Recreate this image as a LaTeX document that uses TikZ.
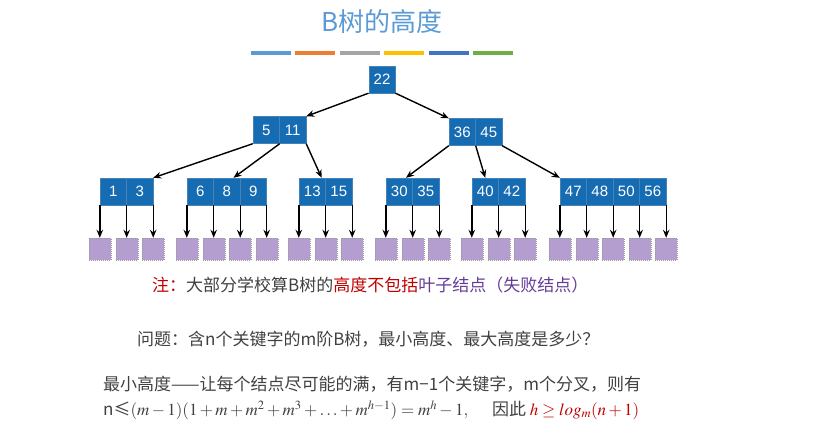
\documentclass[tikz,border=0pt]{standalone}
\usepackage{mathptmx}
\usepackage[no-math]{fontspec}
\setmainfont{Noto Sans CJK SC}
\newfontfamily\numfont{Liberation Sans}
\usetikzlibrary{arrows.meta,calc}

\definecolor{keyblue}{RGB}{22,108,178}
\definecolor{keyline}{RGB}{70,130,180}
\definecolor{leafpurple}{RGB}{180,158,208}
\definecolor{titleblue}{RGB}{91,155,213}
\definecolor{txtgray}{RGB}{64,64,64}
\definecolor{notered}{RGB}{192,0,0}
\definecolor{notepurple}{RGB}{100,60,150}
\definecolor{barblue}{RGB}{91,155,213}
\definecolor{barorange}{RGB}{237,125,49}
\definecolor{bargray}{RGB}{165,165,165}
\definecolor{baryellow}{RGB}{255,192,0}
\definecolor{bardark}{RGB}{68,114,196}
\definecolor{bargreen}{RGB}{112,173,71}

\begin{document}
\begin{tikzpicture}[x=1pt,y=-1pt,
keycell/.style={draw=keyline,fill=keyblue,text=white,minimum width=26.5pt,
  minimum height=27pt,inner sep=0pt,font=\numfont\fontsize{15}{15}\selectfont},
leafbox/.style={draw=gray!80,dash pattern=on 1pt off 1pt,fill=leafpurple,
  minimum size=22pt,inner sep=0pt},
ptr/.style={-{Stealth[length=8pt,width=6.5pt]},line width=1.4pt},
txt/.style={anchor=west,inner sep=0pt,text=txtgray,font=\fontsize{17}{20}\selectfont}]
\useasboundingbox (0,0) rectangle (833,441);

% title and colour bars
\node[font=\fontsize{26}{26}\selectfont,text=titleblue] (title) at (382,22) {B树的高度};
\foreach \c [count=\i] in {barblue,barorange,bargray,baryellow,bardark,bargreen}
  \fill[\c] ({251+44.4*(\i-1)},51) rectangle ++(40,4);

% root and second level
\node[keycell] (k22) at (382,79.5) {22};
\node[keycell] (k5) at (266.25,130) {5};
\node[keycell] (k11) at (292.75,130) {11};
\node[keycell] (k36) at (462.25,132) {36};
\node[keycell] (k45) at (488.75,132) {45};

% third level
\foreach \k/\x in {1/113.25,3/139.75,6/200.25,8/226.75,9/253.25,13/312.25,15/338.75,
  30/399.25,35/425.75,40/485.25,42/511.75,47/573.25,48/599.75,50/626.25,56/652.75}
  \node[keycell] (k\k) at (\x,191.5) {\k};

\draw[ptr] (k22.south west) -- (k11.north east);
\draw[ptr] (k22.south east) -- (k36.north west);
\draw[ptr] (k5.south west) -- (k3.north east);
\draw[ptr] (k5.south east) -- ($(k8.north)!.5!(k8.north east)$);
\draw[ptr] (k11.south east) -- ($(k13.north)!.7!(k13.north east)$);
\draw[ptr] (k36.south west) -- ($(k30.north)!.5!(k30.north east)$);
\draw[ptr] (k36.south east) -- (k40.north);
\draw[ptr] (k45.south east) -- (k47.north west);

% leaves (failure nodes)
\coordinate (leafrow) at (0,249);
\foreach \kc/\ks [count=\i] in {k1/south west,k1/south east,k3/south east,
  k6/south west,k6/south east,k8/south east,k9/south east,
  k13/south west,k13/south east,k15/south east,
  k30/south west,k30/south east,k35/south east,
  k40/south west,k40/south east,k42/south east,
  k47/south west,k47/south east,k48/south east,k50/south east,k56/south east}{
  \node[leafbox] (l\i) at (\kc.\ks |- leafrow) {};
  \draw[ptr] (\kc.\ks) -- (l\i);
}

% texts
\node[txt] (note) at (152,285) {\textcolor{notered}{注：}大部分学校算B树的\textcolor{notered}{高度不包括}\textcolor{notepurple}{叶子结点（失败结点）}};
\node[txt] (question) at (137,339) {问题：含n个关键字的m阶B树，最小高度、最大高度是多少？};
\node[txt] (minh) at (103,384) {最小高度——让每个结点尽可能的满，有m−1个关键字，m个分叉，则有};
\node[txt] (formula) at (103,410) {n≤$(m-1)(1+m+m^2+m^3+\ldots+m^{h-1})=m^h-1,$\hspace{1.4em}因此 \textcolor{notered}{$h\geq log_m(n+1)$}};
\end{tikzpicture}
\end{document}
